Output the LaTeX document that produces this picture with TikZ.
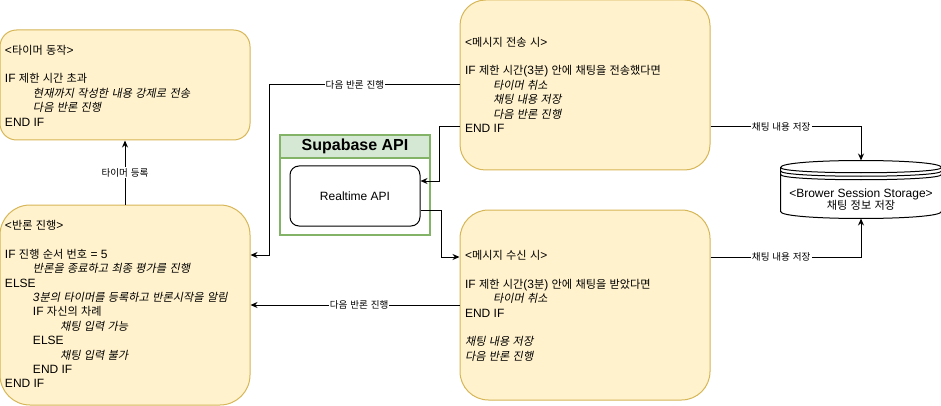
\documentclass[tikz,border=0pt]{standalone}
\usepackage{fontspec}
\usepackage{xcolor}
\usepackage{tikz}
\usetikzlibrary{calc}
\usetikzlibrary{arrows.meta}
\usetikzlibrary{positioning}
\setmainfont{Liberation Sans}
\newfontfamily\krfont{Noto Sans CJK KR}[Scale=0.93, AutoFakeSlant=0.2]
\XeTeXinterchartokenstate=1
\newXeTeXintercharclass\hangulclass
\newcount\hgcount
\hgcount="AC00
\loop\ifnum\hgcount<"D7A4
  \XeTeXcharclass\hgcount=\hangulclass
  \advance\hgcount by 1
\repeat
\XeTeXinterchartoks 0 \hangulclass = {\krfont}
\XeTeXinterchartoks 4095 \hangulclass = {\krfont}
\XeTeXinterchartoks \hangulclass 0 = {\rmfamily}
\XeTeXinterchartoks \hangulclass 4095 = {\rmfamily}
\definecolor{notefill}{HTML}{FFF2CC}
\definecolor{noteline}{HTML}{D6B656}
\definecolor{apifill}{HTML}{D5E8D4}
\definecolor{apiline}{HTML}{82B366}
\tikzset{>={Stealth[length=7pt,width=6pt]}}
\tikzstyle{note} = [rectangle, draw=noteline, fill=notefill, line width=1pt, inner sep=0pt]
\tikzstyle{code} = [anchor=north west, align=left, inner sep=0pt, font={\fontsize{12}{14.4}\selectfont}]
\tikzstyle{lbl} = [fill=white, inner sep=1pt, font={\fontsize{10.3}{13}\selectfont}]
\tikzstyle{apibox} = [rectangle, draw=apiline, fill=white, line width=2pt, inner sep=0pt]
\tikzstyle{apihead} = [rectangle, draw=apiline, fill=apifill, line width=2pt, inner sep=0pt, font={\fontsize{16}{19}\selectfont\bfseries}]

\begin{document}
\begin{tikzpicture}[x=1pt, y=-1pt, line width=1pt]
\useasboundingbox (0,0) rectangle (941,406);
\node [note, rounded corners=16.5pt, minimum width=250pt, minimum height=110pt] (timer) at (125, 85) {};
\node [note, rounded corners=30pt, minimum width=250pt, minimum height=200pt] (debate) at (125, 305) {};
\node [note, rounded corners=25.5pt, minimum width=250pt, minimum height=170pt] (send) at (585, 85) {};
\node [note, rounded corners=28.5pt, minimum width=250pt, minimum height=190pt] (recv) at (585, 305) {};
\node [code] (timertext) at (4.5, 43.5) {\strut<타이머 동작>\\[14.4pt]
IF 제한 시간 초과\\
\hspace*{28pt}\textit{현재까지 작성한 내용 강제로 전송}\\
\hspace*{28pt}\textit{다음 반론 진행}\\
END IF};
\node [code] (debatetext) at (4.5, 219) {\strut<반론 진행>\\[14.4pt]
IF 진행 순서 번호 = 5\\
\hspace*{28pt}\textit{반론을 종료하고 최종 평가를 진행}\\
ELSE\\
\hspace*{28pt}\textit{3분의 타이머를 등록하고 반론시작을 알림}\\
\hspace*{28pt}IF 자신의 차례\\
\hspace*{55pt}\textit{채팅 입력 가능}\\
\hspace*{28pt}ELSE\\
\hspace*{55pt}\textit{채팅 입력 불가}\\
\hspace*{28pt}END IF\\
END IF};
\node [code] (sendtext) at (464.5, 35.5) {\strut<메시지 전송 시>\\[14.4pt]
IF 제한 시간(3분) 안에 채팅을 전송했다면\\
\hspace*{28pt}\textit{타이머 취소}\\
\hspace*{28pt}\textit{채팅 내용 저장}\\
\hspace*{28pt}\textit{다음 반론 진행}\\
END IF};
\node [code] (recvtext) at (464.5, 249) {\strut<메시지 수신 시>\\[14.4pt]
IF 제한 시간(3분) 안에 채팅을 받았다면\\
\hspace*{28pt}\textit{타이머 취소}\\
END IF\\[14.4pt]
\textit{채팅 내용 저장}\\
\textit{다음 반론 진행}};
\node [apibox, minimum width=150pt, minimum height=100pt] (supabase) at (355, 185) {};
\node [apihead, minimum width=150pt, minimum height=23pt, anchor=north] (supahead) at (supabase.north) {Supabase API};
\node [rectangle, draw=black, fill=white, rounded corners=9pt, minimum width=130pt, minimum height=60pt, font={\fontsize{12}{14.4}\selectfont}] (realtime) at (355, 196) {Realtime API};
\node [rectangle, inner sep=0pt, minimum width=160pt, minimum height=57pt] (store) at (861, 189.5) {};
\draw [fill=white] ([yshift=-7pt]store.north west) .. controls ([yshift=2.33pt]store.north west) and ([yshift=2.33pt]store.north east) .. ([yshift=-7pt]store.north east) -- ([yshift=7pt]store.south east) .. controls ([yshift=-2.33pt]store.south east) and ([yshift=-2.33pt]store.south west) .. ([yshift=7pt]store.south west) -- cycle;
\foreach \k in {0,3.5,7}
  \draw ([yshift={-(7+\k)*1pt}]store.north west) .. controls ([yshift={-(14+\k)*1pt}]store.north west) and ([yshift={-(14+\k)*1pt}]store.north east) .. ([yshift={-(7+\k)*1pt}]store.north east);
\node [align=center, font={\fontsize{12}{12.5}\selectfont}] (storetext) at (861, 199.5) {<Brower Session Storage>\\채팅 정보 저장};
\draw [->] (debate) to node[lbl] {타이머 등록} (timer);
\draw [->] (send.west) -- node[lbl, pos=0.55] {다음 반론 진행} ++(-190,0) |- ([yshift=50pt]debate.east);
\draw [->] ([yshift=-42pt]send.west) -- ++(-20,0) |- ([yshift=15pt]realtime.east);
\draw [->] ([yshift=-14pt]realtime.east) -- ++(21,0) |- ([yshift=48pt]recv.west);
\draw [->] (recv.west) to node[lbl, pos=0.48] {다음 반론 진행} (debate.east);
\draw [->] ([yshift=-42pt]send.east) -| node[lbl, pos=0.235] {채팅 내용 저장} (store.north);
\draw [->] ([yshift=48pt]recv.east) -| node[lbl, pos=0.235] {채팅 내용 저장} (store.south);
\end{tikzpicture}
\end{document}
